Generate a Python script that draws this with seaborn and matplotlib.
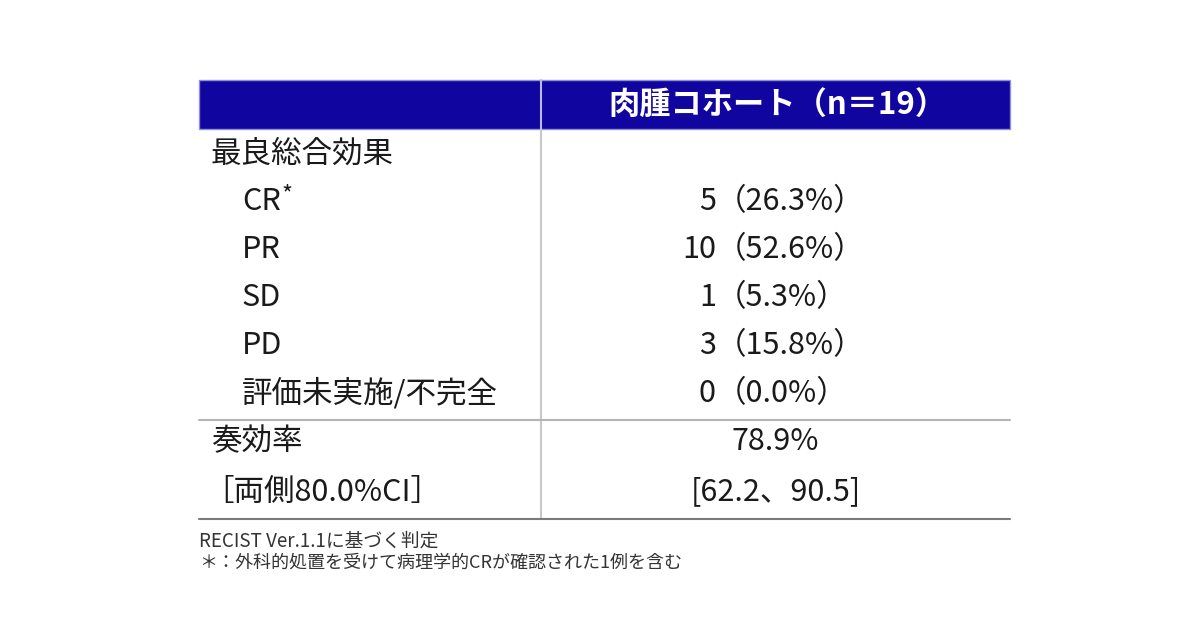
import seaborn as sns
import matplotlib.pyplot as plt
from matplotlib.patches import Rectangle

# Данные таблицы
header = '肉腫コホート（n＝19）'
row_labels = ['最良総合効果', 'CR', 'PR', 'SD', 'PD', '評価未実施/不完全']
row_indent = [0, 1, 1, 1, 1, 1]
counts = [None, 5, 10, 1, 3, 0]
percents = [None, 26.3, 52.6, 5.3, 15.8, 0.0]
rate_labels = ['奏効率', '［両側80.0%CI］']
rate_values = ['78.9%', '[62.2、90.5]']
notes = ['RECIST Ver.1.1に基づく判定',
         '＊：外科的処置を受けて病理学的CRが確認された1例を含む']

sns.set_theme(style='white')
plt.rcParams['font.family'] = ['Noto Sans CJK JP', 'DejaVu Sans']

fig = plt.figure(figsize=(12.01, 6.30), dpi=100)
ax = fig.add_axes([0, 0, 1, 1])
ax.set_xlim(0, 1201)
ax.set_ylim(630, 0)
ax.axis('off')

# Геометрия
left, mid, right = 199, 541, 1010
head_top, head_bot = 80, 129
row0, step = 154, 48
col2 = (mid + right) / 2
num_x = 716
fs = 22
txt = '#1a1a1a'

# Шапка
ax.add_patch(Rectangle((left, head_top), right - left, head_bot - head_top,
                       facecolor='#10069f', edgecolor='#8f8fe0', lw=1))
ax.plot([mid, mid], [head_top, head_bot], color='#b8b8ec', lw=1.5)
ax.text(col2 + 2, (head_top + head_bot) / 2 + 1, header, color='white',
        fontsize=22.5, fontweight='bold', ha='center', va='center')

# Вертикальная линия
ax.plot([mid, mid], [head_bot, 519], color='#c8c8c8', lw=1.5)

# Строки ответа
for i, lab in enumerate(row_labels):
    y = row0 + step * i
    x = 211 + 31 * row_indent[i]
    ax.text(x, y, lab, fontsize=fs, color=txt, ha='left', va='center')
    if lab == 'CR':
        ax.text(x + 39, y - 7, '*', fontsize=17, color=txt, ha='left', va='center')
    if counts[i] is not None:
        ax.text(num_x, y, str(counts[i]), fontsize=fs, color=txt,
                ha='right', va='center')
        ax.text(num_x, y, f'（{percents[i]:.1f}%）', fontsize=fs, color=txt,
                ha='left', va='center')

ax.plot([left, right], [420, 420], color='#b4b4b4', lw=1.5)

for j, lab in enumerate(rate_labels):
    y = row0 + step * (len(row_labels) + j) + j * 2
    ax.text(211 if j == 0 else 203, y, lab, fontsize=fs, color=txt,
            ha='left', va='center')
    ax.text(col2, y, rate_values[j], fontsize=fs, color=txt,
            ha='center', va='center')

ax.plot([left, right], [519, 519], color='#7a7a7a', lw=1.5)

# Примечания
for k, note in enumerate(notes):
    ax.text(left, 541 + 22 * k, note, fontsize=13.5 if k == 0 else 13,
            color='#333333', ha='left', va='center')

fig.savefig('out.png', dpi=100)
